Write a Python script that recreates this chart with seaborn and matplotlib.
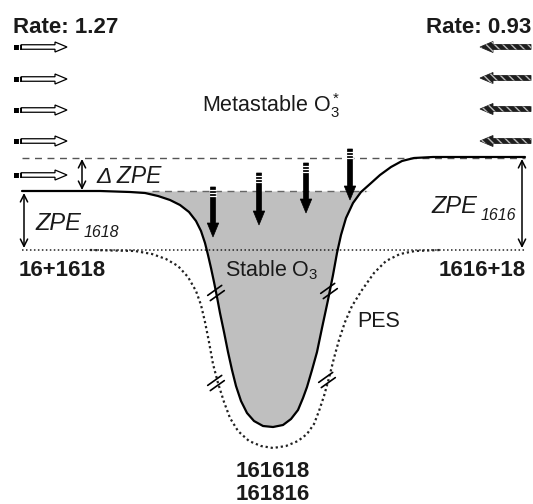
import numpy as np
import pandas as pd
import matplotlib
matplotlib.use("Agg")
import matplotlib.pyplot as plt
import seaborn as sns
from matplotlib.patches import FancyArrow, Rectangle

# ---------------- data (schematic, in picture units) ----------------
well_x = [22, 100, 130, 145, 158, 170, 180, 189, 196, 201, 205, 208, 211, 214, 217, 220,
          224, 228, 232, 236, 241, 247, 254, 263, 273, 283, 291, 298, 303, 307, 312, 317,
          322, 328, 333, 337, 341, 346, 353, 361, 370, 380, 391, 402, 414, 433, 525]
well_y = [191, 191, 192, 193, 196, 200, 205, 212, 221, 231, 243, 255, 268, 282, 297, 313,
          332, 352, 370, 386, 401, 413, 421, 426, 427, 425, 419, 410, 398, 387, 370, 352,
          328, 300, 275, 253, 235, 218, 203, 192, 184, 175, 167, 161, 158, 157, 157]

pes_x = [90, 135, 152, 166, 178, 188, 196, 201, 205, 209, 213, 218, 224, 230, 238, 249,
         261, 273, 286, 298, 307, 314, 319, 324, 329, 334, 339, 345, 352, 362, 374, 386,
         400, 415, 440]
pes_y = [250, 251, 254, 259, 266, 277, 291, 305, 322, 342, 364, 383, 402, 418, 431, 441,
         446, 448, 446, 441, 434, 424, 411, 396, 378, 358, 340, 322, 306, 290, 273, 261,
         254, 251, 250]

level_metastable = 157
level_1618 = 191
level_dissoc = 250

rate_left = "Rate: 1.27"
rate_right = "Rate: 0.93"
left_channel = "16+1618"
right_channel = "1616+18"
bottom_labels = ["161618", "161816"]

left_flux_rows = [47, 79, 110, 141, 175]
right_flux_rows = [47, 78, 109, 141]
down_x = [213, 259, 306, 350]
down_top = [187, 173, 163, 149]
down_tip = [237, 225, 213, 200]
breaks = [(216, 293), (329, 291), (216, 383), (327, 380)]

# ---------------- style ----------------
sns.set_theme(style="white")
plt.rcParams["font.family"] = ["Liberation Sans", "DejaVu Sans"]
plt.rcParams["mathtext.fontset"] = "custom"
plt.rcParams["mathtext.rm"] = "Liberation Sans"
plt.rcParams["mathtext.it"] = "Liberation Sans:italic"
plt.rcParams["mathtext.bf"] = "Liberation Sans:bold"

TXT = "#1a1a1a"
fig = plt.figure(figsize=(5.33, 5.04), dpi=100)
ax = fig.add_axes([0, 0, 1, 1])

wx = np.array(well_x, float)
wy = np.array(well_y, float)

# grey filled stable region
ax.fill_between(wx, level_1618, np.maximum(wy, level_1618), where=wy >= level_1618,
                interpolate=True, color="#bfbfbf", lw=0, zorder=1)

# reference levels
ax.plot([22, 525], [level_metastable + 1, level_metastable + 1], color="#555555",
        lw=1.0, ls=(0, (5, 4)), zorder=2)
ax.plot([152, 366], [level_1618, level_1618], color="#666666", lw=1.0,
        ls=(0, (5, 4)), zorder=2)
ax.plot([22, 525], [level_dissoc, level_dissoc], color="#222222", lw=1.1,
        ls=(0, (1, 1.6)), zorder=2)

# curves
sns.lineplot(x=pes_x, y=pes_y, sort=False, estimator=None, color="#222222", lw=1.6,
             linestyle=(0, (1, 1.3)), ax=ax, zorder=3)
sns.lineplot(x=well_x, y=well_y, sort=False, estimator=None, color="black", lw=1.6,
             ax=ax, zorder=3)

# break marks
for cx, cy in breaks:
    for off in (-2.6, 2.6):
        ax.plot([cx - 7 + off * 0.5, cx + 7 + off * 0.5],
                [cy + 5 + off, cy - 5 + off], color="black", lw=1.2, zorder=5)

# down arrows (relaxation)
for x, t, b in zip(down_x, down_top, down_tip):
    ax.add_patch(FancyArrow(x, t, 0, b - t, width=5, head_width=11.5, head_length=14,
                            length_includes_head=True, fc="black", ec="black", lw=0.5,
                            zorder=6))
    for s in (2.5, 5.5, 8.5):
        ax.plot([x - 3, x + 3], [t + s, t + s], color="white", lw=0.9, zorder=7)

# left flux arrows (hollow)
for yy in left_flux_rows:
    ax.add_patch(FancyArrow(21, yy, 46, 0, width=4.5, head_width=10, head_length=12,
                            length_includes_head=True, fc="white", ec="black", lw=0.9,
                            zorder=6))
    ax.add_patch(Rectangle((14, yy - 2.5), 8, 5, fc="black", ec="none", zorder=7))
    ax.plot([18.5, 18.5], [yy - 2.5, yy + 2.5], color="white", lw=0.8, zorder=8)

# right flux arrows (hatched, dark)
for yy in right_flux_rows:
    ax.add_patch(FancyArrow(531, yy, -51, 0, width=5, head_width=11, head_length=13,
                            length_includes_head=True, fc="#1e1e1e", ec="#1e1e1e",
                            lw=0.6, zorder=6))
    ax.add_patch(FancyArrow(531, yy, -51, 0, width=5, head_width=11, head_length=13,
                            length_includes_head=True, fc="none", ec="#bbbbbb",
                            hatch="\\\\\\\\", lw=0, zorder=7))

# double-headed ZPE arrows
dbl = dict(arrowstyle="<->", lw=1.1, color="black", shrinkA=0, shrinkB=0,
           mutation_scale=13)
ax.annotate("", xy=(82, 159), xytext=(82, 190), arrowprops=dbl, zorder=6)
ax.annotate("", xy=(24, 193), xytext=(24, 248), arrowprops=dbl, zorder=6)
ax.annotate("", xy=(522, 159), xytext=(522, 248), arrowprops=dbl, zorder=6)

# texts
ax.text(13, 33, rate_left, fontsize=16, fontweight="bold", color=TXT, va="baseline")
ax.text(531, 33, rate_right, fontsize=16, fontweight="bold", color=TXT, va="baseline",
        ha="right")
ax.text(202, 112, "Metastable O$_3^*$", fontsize=15.5, color=TXT, va="baseline")
ax.text(225, 276, "Stable O$_3$", fontsize=15.5, color=TXT, va="baseline")
ax.text(357, 327, "PES", fontsize=15.5, color=TXT, va="baseline")
ax.text(19, 276, left_channel, fontsize=16, fontweight="bold", color=TXT, va="baseline")
ax.text(526, 276, right_channel, fontsize=16, fontweight="bold", color=TXT,
        va="baseline", ha="right")
ax.text(273, 477, bottom_labels[0], fontsize=16, fontweight="bold", color=TXT,
        va="baseline", ha="center")
ax.text(273, 500, bottom_labels[1], fontsize=16, fontweight="bold", color=TXT,
        va="baseline", ha="center")
ax.text(96, 183, "Δ ZPE", fontsize=16.5, style="italic", color=TXT, va="baseline")
ax.text(35, 230, "ZPE", fontsize=17, style="italic", color=TXT, va="baseline")
ax.text(84, 237, "1618", fontsize=11.5, style="italic", color=TXT, va="baseline")
ax.text(431, 213, "ZPE", fontsize=17, style="italic", color=TXT, va="baseline")
ax.text(481, 220, "1616", fontsize=11.5, style="italic", color=TXT, va="baseline")

ax.set_xlim(0, 533)
ax.set_ylim(504, 0)
ax.axis("off")
fig.savefig("out.png", dpi=100)
